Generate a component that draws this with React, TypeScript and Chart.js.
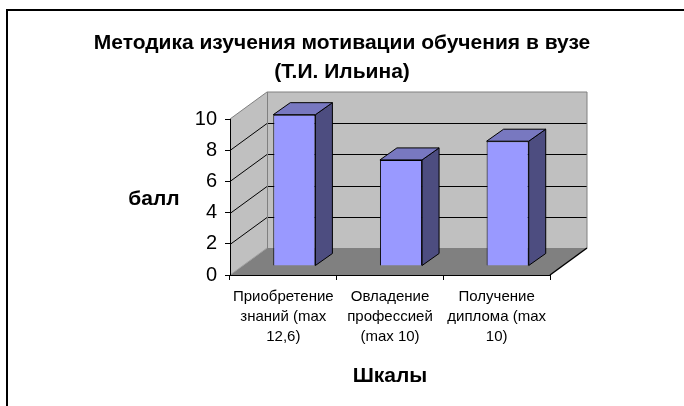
import React, { useEffect, useRef } from "react";
import { Chart, registerables } from "chart.js";

Chart.register(...registerables);

const categories: string[][] = [
  ["Приобретение", "знаний (max", "12,6)"],
  ["Овладение", "профессией", "(max 10)"],
  ["Получение", "диплома (max", "10)"],
];
const values: number[] = [9.7, 6.8, 8.0];
const yMin = 0;
const yMax = 10;
const yStep = 2;
const titleLines: string[] = ["Методика изучения мотивации обучения в вузе", "(Т.И. Ильина)"];
const yTitle = "балл";
const xTitle = "Шкалы";

const FONT = '"Liberation Sans", Arial, sans-serif';
const DEPTH_X = 37;
const DEPTH_Y = 27;
const BAR_OFF_X = 11;
const BAR_OFF_Y = 9;
const BAR_DX = 17;
const BAR_DY = 12;

const threeD = {
  id: "threeD",
  beforeDraw(chart: any) {
    const ctx = chart.ctx as CanvasRenderingContext2D;
    const { left: L, right: R, top: T, bottom: B } = chart.chartArea;
    const ys = chart.scales.y;
    const dx = DEPTH_X, dy = DEPTH_Y;
    ctx.save();
    ctx.fillStyle = "#ffffff";
    ctx.fillRect(0, 0, chart.width, chart.height);

    // frame
    ctx.strokeStyle = "#000";
    ctx.lineWidth = 2;
    ctx.beginPath();
    ctx.moveTo(7, chart.height + 2);
    ctx.lineTo(7, 10);
    ctx.lineTo(chart.width + 2, 10);
    ctx.stroke();

    // walls
    ctx.fillStyle = "#C0C0C0";
    ctx.beginPath();
    ctx.moveTo(L, B);
    ctx.lineTo(L, T);
    ctx.lineTo(L + dx, T - dy);
    ctx.lineTo(L + dx, B - dy);
    ctx.closePath();
    ctx.fill();
    ctx.fillRect(L + dx, T - dy, R - L, B - T);

    // floor
    ctx.fillStyle = "#808080";
    ctx.beginPath();
    ctx.moveTo(L, B);
    ctx.lineTo(R, B);
    ctx.lineTo(R + dx, B - dy);
    ctx.lineTo(L + dx, B - dy);
    ctx.closePath();
    ctx.fill();

    // gridlines
    ctx.strokeStyle = "#000";
    ctx.lineWidth = 1;
    for (let v = yMin + yStep; v < yMax; v += yStep) {
      const py = Math.round(ys.getPixelForValue(v)) + 0.5;
      ctx.beginPath();
      ctx.moveTo(L, py);
      ctx.lineTo(L + dx, py - dy);
      ctx.lineTo(R + dx, py - dy);
      ctx.stroke();
    }

    // wall outlines
    ctx.strokeStyle = "#808080";
    ctx.beginPath();
    ctx.moveTo(L, T);
    ctx.lineTo(L + dx, T - dy);
    ctx.lineTo(R + dx, T - dy);
    ctx.lineTo(R + dx, B - dy);
    ctx.moveTo(L + dx + 0.5, T - dy);
    ctx.lineTo(L + dx + 0.5, B - dy);
    ctx.stroke();
    ctx.strokeStyle = "#A0A0A0";
    ctx.beginPath();
    ctx.moveTo(L, B);
    ctx.lineTo(L + dx, B - dy);
    ctx.stroke();

    // floor right edge
    ctx.strokeStyle = "#000";
    ctx.lineWidth = 1.5;
    ctx.beginPath();
    ctx.moveTo(R, B);
    ctx.lineTo(R + dx, B - dy);
    ctx.stroke();

    // texts
    ctx.fillStyle = "#000";
    ctx.textAlign = "center";
    ctx.textBaseline = "middle";
    ctx.font = `bold 21px ${FONT}`;
    ctx.fillText(titleLines[0], 342, 43);
    ctx.fillText(titleLines[1], 342, 72);
    ctx.font = `bold 21px ${FONT}`;
    ctx.fillText(yTitle, 154, 199);
    ctx.fillText(xTitle, 390, 376);
    ctx.restore();
  },
  beforeDatasetDraw(chart: any, args: any) {
    const ctx = chart.ctx as CanvasRenderingContext2D;
    ctx.save();
    ctx.translate(BAR_OFF_X, -BAR_OFF_Y);
    args.meta.data.forEach((el: any) => {
      const { x, y, base, width } = el.getProps(["x", "y", "base", "width"], true);
      const l = x - width / 2;
      const r = x + width / 2;
      ctx.strokeStyle = "#000";
      ctx.lineWidth = 1;
      ctx.fillStyle = "#4D4D80";
      ctx.beginPath();
      ctx.moveTo(r, y);
      ctx.lineTo(r + BAR_DX, y - BAR_DY);
      ctx.lineTo(r + BAR_DX, base - BAR_DY);
      ctx.lineTo(r, base);
      ctx.closePath();
      ctx.fill();
      ctx.stroke();
      ctx.fillStyle = "#7878C0";
      ctx.beginPath();
      ctx.moveTo(l, y);
      ctx.lineTo(l + BAR_DX, y - BAR_DY);
      ctx.lineTo(r + BAR_DX, y - BAR_DY);
      ctx.lineTo(r, y);
      ctx.closePath();
      ctx.fill();
      ctx.stroke();
    });
  },
  afterDatasetDraw(chart: any) {
    chart.ctx.restore();
  },
};

export default function App() {
  const ref = useRef<HTMLCanvasElement | null>(null);
  useEffect(() => {
    if (!ref.current) return;
    const chart = new Chart(ref.current, {
      type: "bar",
      data: {
        labels: categories,
        datasets: [
          {
            data: values,
            backgroundColor: "#9999FF",
            borderColor: "#000",
            borderWidth: 1,
            categoryPercentage: 1,
            barPercentage: 0.395,
            clip: false as any,
          },
        ],
      },
      options: {
        responsive: false,
        animation: false,
        devicePixelRatio: 1,
        layout: { padding: { left: 130, right: 134, top: 119, bottom: 41 } },
        plugins: { legend: { display: false }, title: { display: false }, tooltip: { enabled: false } },
        scales: {
          x: {
            ticks: {
              color: "#000",
              font: { size: 15, family: FONT, lineHeight: "20px" as any },
              padding: 7,
              maxRotation: 0,
              minRotation: 0,
              autoSkip: false,
            },
            grid: { offset: true, drawOnChartArea: false, drawTicks: true, tickLength: 5, color: "#000" },
            border: { display: true, color: "#000", width: 1 },
            afterFit: (s: any) => {
              s.height = 90;
            },
          },
          y: {
            min: yMin,
            max: yMax,
            ticks: { stepSize: yStep, color: "#000", font: { size: 20, family: FONT }, padding: 8 },
            grid: { drawOnChartArea: false, drawTicks: true, tickLength: 5, color: "#000" },
            border: { display: true, color: "#000", width: 1 },
            afterFit: (s: any) => {
              s.width = 100;
            },
          },
        },
      },
      plugins: [threeD],
    });
    return () => chart.destroy();
  }, []);
  return (
    <canvas
      ref={ref}
      width={684}
      height={406}
      style={{ position: "absolute", left: 0, top: 0, width: 684, height: 406 }}
    />
  );
}
